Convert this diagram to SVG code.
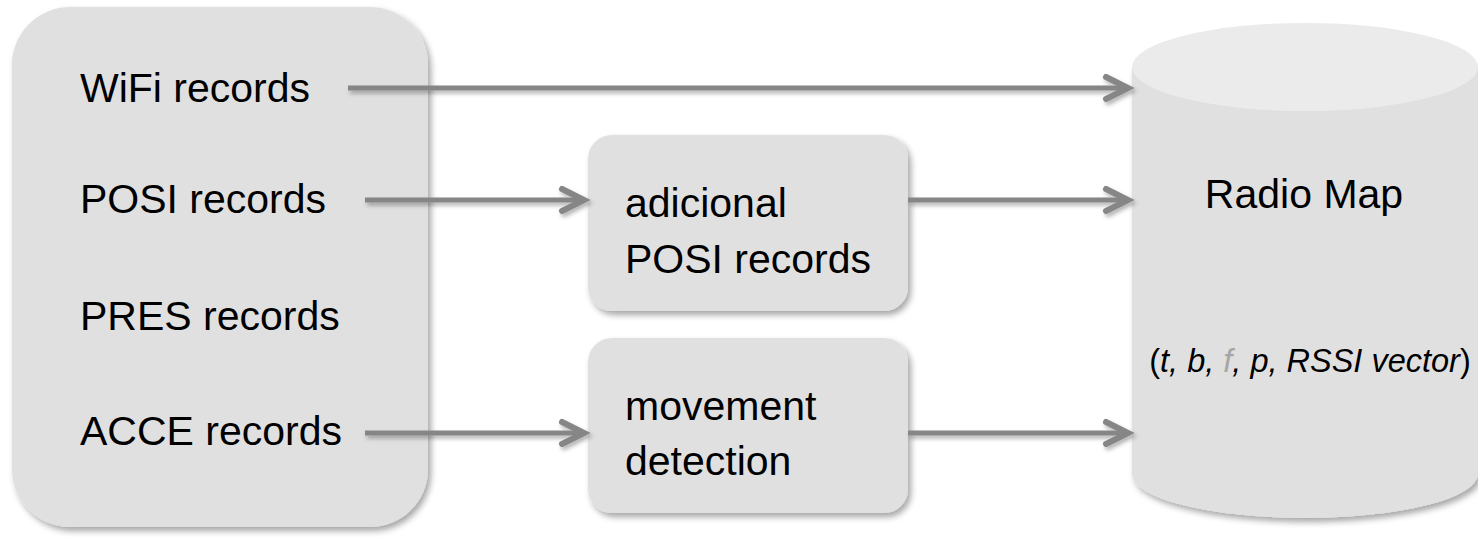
<svg xmlns="http://www.w3.org/2000/svg" width="1478" height="537" viewBox="0 0 1478 537">
<style>
.box{fill:#e0e0e0;filter:url(#sh)}
.t{font-family:"Liberation Sans",Arial,sans-serif;font-size:41px;fill:#000}
.conn line{stroke:#868686;stroke-width:5}
.i{font-style:italic}
</style>
<defs>
<filter id="sh" x="-10%" y="-10%" width="125%" height="125%">
<feDropShadow dx="3" dy="4" stdDeviation="3" flood-color="#000" flood-opacity="0.35"/>
</filter>
<filter id="ash" x="-10%" y="-100%" width="120%" height="400%">
<feDropShadow dx="2" dy="3" stdDeviation="2" flood-color="#000" flood-opacity="0.3"/>
</filter>
<marker id="ah" markerUnits="userSpaceOnUse" markerWidth="30" markerHeight="30" refX="24" refY="12" orient="auto" viewBox="0 0 30 24" overflow="visible">
<polyline points="2,1 24,12 2,23" fill="none" stroke="#868686" stroke-width="6" stroke-linecap="round" stroke-linejoin="miter"/>
</marker>
</defs>
<rect width="1478" height="537" fill="#fff"/>
<g id="sources">
<rect class="box" x="12" y="7" width="416" height="520" rx="58" ry="58"/>
<text class="t" x="80" y="102">WiFi records</text>
<text class="t" x="80" y="213">POSI records</text>
<text class="t" x="80" y="330">PRES records</text>
<text class="t" x="80" y="445">ACCE records</text>
</g>
<g id="adicional">
<rect class="box" x="588" y="135" width="320" height="176" rx="24" ry="24"/>
<text class="t" x="625" y="217">adicional</text>
<text class="t" x="625" y="273">POSI records</text>
</g>
<g id="movement">
<rect class="box" x="588" y="338" width="320" height="175" rx="24" ry="24"/>
<text class="t" x="625" y="420">movement</text>
<text class="t" x="625" y="475">detection</text>
</g>
<g id="radiomap">
<path d="M1132,67 L1132,474 A173,44 0 0 0 1478,474 L1478,67 Z" fill="#e0e0e0" filter="url(#sh)"/>
<ellipse cx="1305" cy="67" rx="173" ry="44" fill="#ebebeb"/>
<text class="t" x="1304" y="208" text-anchor="middle">Radio Map</text>
<text class="t" x="1310" y="372" text-anchor="middle" style="font-size:32.5px">(<tspan class="i">t, b, </tspan><tspan class="i" fill="#a6a6a6">f</tspan><tspan class="i">, p, RSSI vector</tspan>)</text>
</g>
<g id="connectors" class="conn" filter="url(#ash)">
<line x1="348" y1="88" x2="1128" y2="88" marker-end="url(#ah)"/>
<line x1="365" y1="200" x2="584" y2="200" marker-end="url(#ah)"/>
<line x1="365" y1="433" x2="584" y2="433" marker-end="url(#ah)"/>
<line x1="908" y1="200" x2="1128" y2="200" marker-end="url(#ah)"/>
<line x1="908" y1="433" x2="1128" y2="433" marker-end="url(#ah)"/>
</g>
</svg>
